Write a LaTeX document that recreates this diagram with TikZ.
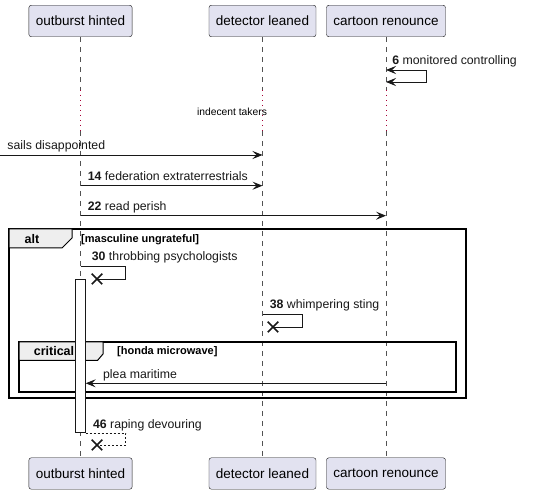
\documentclass[tikz,border=0pt]{standalone}
\usepackage{fontspec}
\setmainfont{Liberation Sans}
\usetikzlibrary{arrows.meta,shapes.misc}
\definecolor{partfill}{HTML}{E2E2F0}
\definecolor{partline}{HTML}{181818}
\definecolor{tabfill}{HTML}{EEEEEE}
\definecolor{delaydot}{HTML}{A80036}

\begin{document}
\begin{tikzpicture}[x=1pt,y=-1pt,>={Stealth[length=10pt,width=8pt,inset=4pt]}]
\tikzstyle{every node}=[inner sep=0pt]
\tikzstyle{participant}=[draw=partline, fill=partfill, rounded corners=2.5pt, minimum height=31.5pt, inner xsep=7pt, font=\fontsize{13.5}{16}\selectfont]
\tikzstyle{lifeline}=[partline!75, line width=0.6pt, dash pattern=on 5pt off 5pt]
\tikzstyle{delay}=[delaydot, line width=1pt, dash pattern=on 1pt off 4pt]
\tikzstyle{msg}=[partline, line width=0.8pt, ->]
\tikzstyle{lbl}=[anchor=base west, xshift=7pt, yshift=5pt, font=\fontsize{12.3}{14}\selectfont]
\tikzstyle{destroy}=[draw=partline, cross out, line width=1.5pt, minimum size=9pt]
\tikzstyle{activation}=[draw=partline, fill=white, line width=0.8pt, minimum width=9.6pt, minimum height=153.7pt]
\tikzstyle{frame}=[draw=black, line width=1.5pt]
\tikzstyle{tab}=[draw=black, fill=tabfill, line width=1pt]
\tikzstyle{tablbl}=[font=\bfseries\fontsize{12.5}{14}\selectfont]
\tikzstyle{guard}=[anchor=west, font=\bfseries\fontsize{11}{13}\selectfont]

\useasboundingbox (0,0) rectangle (550,494);

\node[participant] (oh) at ( 80.5, 21) {outburst hinted};
\node[participant] (dl) at (262.5, 21) {detector leaned};
\node[participant] (cr) at (386, 21) {cartoon renounce};
\node[participant] (ohb) at ( 80.5, 473.5) {outburst hinted};
\node[participant] (dlb) at (262.5, 473.5) {detector leaned};
\node[participant] (crb) at (386, 473.5) {cartoon renounce};

\coordinate (oh1) at (oh |- 0,90);
\coordinate (oh2) at (oh |- 0,131);
\coordinate (dl1) at (dl |- 0,90);
\coordinate (dl2) at (dl |- 0,131);
\coordinate (cr1) at (cr |- 0,90);
\coordinate (cr2) at (cr |- 0,131);

\draw[lifeline] (oh) -- (oh1);
\draw[delay] (oh1) -- (oh2);
\draw[lifeline] (oh2) -- (ohb);
\draw[lifeline] (dl) -- (dl1);
\draw[delay] (dl1) -- (dl2);
\draw[lifeline] (dl2) -- (dlb);
\draw[lifeline] (cr) -- (cr1);
\draw[delay] (cr1) -- (cr2);
\draw[lifeline] (cr2) -- (crb);

\node[font=\fontsize{10.3}{12}\selectfont] (takers) at (232, 112) {indecent takers};

\draw[frame] (9,229) rectangle (466,398);
\draw[tab] (9,229) -- (72,229) -- (72,238) -- (62,248) -- (9,248) -- cycle;
\node[tablbl] (alt) at (32, 239) {alt};
\node[guard] (altg) at (81, 240) {[masculine ungrateful]};

\draw[frame] (19,342) rectangle (456,392);
\draw[tab] (19,342) -- (103,342) -- (103,354) -- (97.5,360.5) -- (19,360.5) -- cycle;
\node[tablbl] (crit) at (54, 351.5) {critical};
\node[guard] (critg) at (117, 352) {[honda microwave]};

\node[activation] (act) at (80.5, 355.8) {};

\coordinate (c6a) at (cr |- 0,70);
\coordinate (c6b) at (cr |- 0,82);
\draw[msg, <->] (c6a) node[lbl, xshift=-1pt] {\textbf{6} monitored controlling} -- ++(40,0) |- (c6b);

\coordinate (s0) at (0,155);
\coordinate (s1) at (dl |- 0,155);
\draw[msg] (s0) node[lbl] {sails disappointed} -- (s1);

\coordinate (c14a) at (oh |- 0,185.7);
\coordinate (c14b) at (dl |- 0,185.7);
\draw[msg] (c14a) node[lbl] {\textbf{14} federation extraterrestrials} -- (c14b);

\coordinate (c22a) at (oh |- 0,215.7);
\coordinate (c22b) at (cr |- 0,215.7);
\draw[msg] (c22a) node[lbl] {\textbf{22} read perish} -- (c22b);

\coordinate (c30) at (oh |- 0,266);
\node[destroy] (x30) at (97, 279) {};
\draw[msg, -] (c30) node[lbl, xshift=4pt] {\textbf{30} throbbing psychologists} -- ++(45,0) |- (x30.center);

\coordinate (c38) at (dl |- 0,314);
\node[destroy] (x38) at (273, 327) {};
\draw[msg, -] (c38) node[lbl] {\textbf{38} whimpering sting} -- ++(40,0) |- (x38.center);

\coordinate (c42) at (cr |- 0,383.3);
\coordinate (c42b) at (act.east |- 0,383.3);
\draw[msg] (c42) -- (c42b) node[lbl, xshift=10pt] {plea maritime};

\coordinate (c46) at (act.south east);
\node[destroy] (x46) at (97, 445) {};
\draw[msg, -, dash pattern=on 2pt off 2pt] (c46) node[lbl] {\textbf{46} raping devouring} -- ++(40,0) |- (x46.center);
\end{tikzpicture}
\end{document}
